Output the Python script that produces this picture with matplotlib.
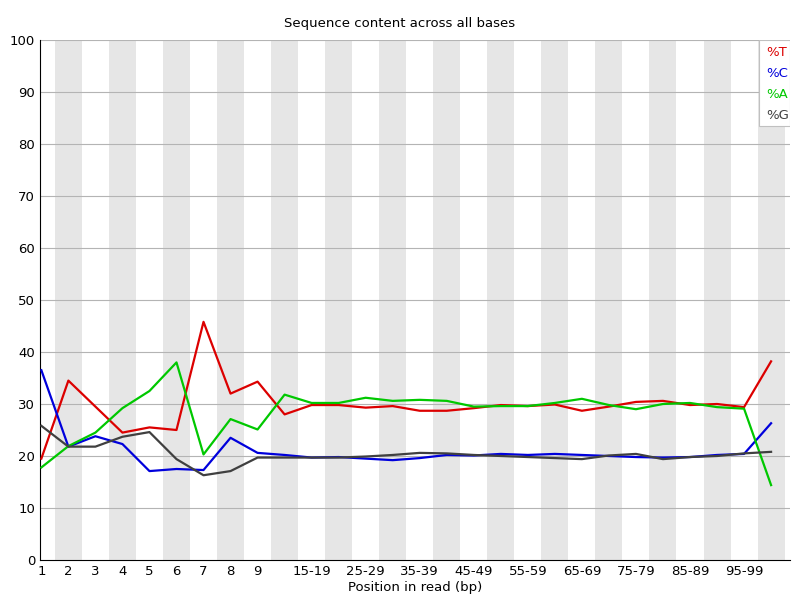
import matplotlib
matplotlib.use("Agg")
import matplotlib.pyplot as plt
from matplotlib.patches import Rectangle

categories = [str(i) for i in range(1, 10)] + [f"{a}-{a+4}" for a in range(10, 100, 5)] + ["100-101"]
pct_T = [19.5, 34.5, 29.5, 24.5, 25.5, 25, 45.8, 32, 34.3, 28, 29.8, 29.8, 29.3, 29.6, 28.7, 28.7, 29.2, 29.8, 29.6, 29.9, 28.7, 29.5, 30.4, 30.6, 29.8, 30, 29.4, 38.2]
pct_C = [36.5, 21.8, 23.8, 22.3, 17.1, 17.5, 17.3, 23.5, 20.6, 20.2, 19.7, 19.8, 19.5, 19.2, 19.6, 20.2, 20.1, 20.4, 20.2, 20.4, 20.2, 20, 19.8, 19.7, 19.8, 20.2, 20.4, 26.3]
pct_A = [17.8, 21.9, 24.5, 29.2, 32.5, 38, 20.3, 27.1, 25.1, 31.8, 30.2, 30.2, 31.2, 30.6, 30.8, 30.6, 29.5, 29.6, 29.6, 30.2, 31.0, 29.8, 29.0, 30, 30.2, 29.4, 29.1, 14.4]
pct_G = [25.8, 21.8, 21.8, 23.7, 24.6, 19.4, 16.3, 17.1, 19.7, 19.7, 19.7, 19.7, 19.9, 20.2, 20.6, 20.5, 20.2, 20, 19.8, 19.6, 19.4, 20.1, 20.4, 19.4, 19.8, 20, 20.5, 20.8]

fig = plt.figure(figsize=(8, 6), dpi=100)
ax = fig.add_axes([40/800, 40/600, 750/800, 520/600])
n = len(categories)
x = list(range(n))
for i in x:
    if i % 2 == 1:
        ax.axvspan(i - 0.5, i + 0.5, color="#e6e6e6", lw=0, zorder=0)
for y in range(10, 101, 10):
    ax.axhline(y, color="#b4b4b4", lw=0.8, zorder=1)
series = [("%T", pct_T, "#dc0000"), ("%C", pct_C, "#0000dc"), ("%A", pct_A, "#00c800"), ("%G", pct_G, "#404040")]
for name, vals, col in series:
    ax.plot(x, vals, color=col, lw=1.6, zorder=3)
ax.set_xlim(-0.05, n - 0.3)
ax.set_ylim(0, 100)
ax.set_yticks(range(0, 101, 10))
ax.set_xticks(x)
ax.set_xticklabels([c if (i < 9 or (i - 9) % 2 == 1) and c != "100-101" else "" for i, c in enumerate(categories)])
ax.tick_params(length=0, labelsize=9.5)
for s in ["top", "right"]:
    ax.spines[s].set_visible(False)
ax.set_xlabel("Position in read (bp)", fontsize=9.5, labelpad=2)
fig.text(0.5, 1 - 24/600, "Sequence content across all bases", ha="center", va="center", fontsize=9.5)
ax.add_patch(Rectangle((0.958, 0.835), 0.042, 0.165, transform=ax.transAxes, facecolor="white", edgecolor="#c0c0c0", lw=0.8, zorder=4))
for k, (name, vals, col) in enumerate(series):
    ax.text(0.968, 0.975 - k * 0.04, name, color=col, transform=ax.transAxes, fontsize=9.5, va="center", zorder=5)
fig.savefig("out.png", dpi=100)
